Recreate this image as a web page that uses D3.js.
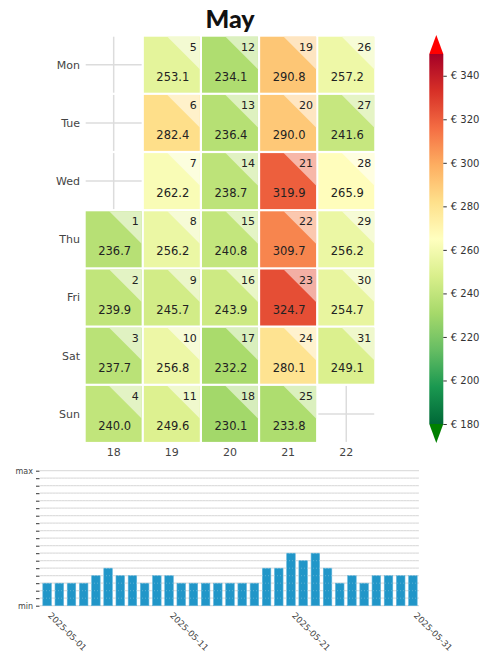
<!DOCTYPE html>
<html><head><meta charset="utf-8">
<script src="https://cdn.jsdelivr.net/npm/d3@7"></script>
<style>
html,body{margin:0;padding:0;background:#fff;}
svg{display:block;font-family:"DejaVu Sans",sans-serif;}
</style></head>
<body>
<svg id="c" width="491" height="657"></svg>
<script>
// ---- data ----
const title = "May";
const year = 2025, month = 5;
const days = [1,2,3,4,5,6,7,8,9,10,11,12,13,14,15,16,17,18,19,20,21,22,23,24,25,26,27,28,29,30,31];
const prices = [236.7,239.9,237.7,240.0,253.1,282.4,262.2,256.2,245.7,256.8,249.6,234.1,236.4,238.7,240.8,243.9,232.2,230.1,290.8,290.0,319.9,309.7,324.7,280.1,233.8,257.2,241.6,265.9,256.2,254.7,249.1];
const weeks = [18,19,20,21,22];
const dayNames = ["Mon","Tue","Wed","Thu","Fri","Sat","Sun"];
const colorTicks = [180,200,220,240,260,280,300,320,340];
const colorDomain = [180,350];
const barLevels = [3,3,3,3,4,5,4,4,3,4,4,3,3,3,3,3,3,3,5,5,7,6,7,5,3,4,3,4,4,4,4];
const barTickCount = 18;
const barDateLabels = ["2025-05-01","2025-05-11","2025-05-21","2025-05-31"];
const rdylgn = ["#a50026","#d73027","#f46d43","#fdae61","#fee08b","#ffffbf","#d9ef8b","#a6d96a","#66bd63","#1a9850","#006837"];

const svg = d3.select("#c");
const fmtDate = d3.timeFormat("%Y-%m-%d");
const fmtWeek = d3.timeFormat("%V");
const cells = days.map((d,i) => {
  const dt = new Date(year, month-1, d);
  return {day:d, price:prices[i], week:+fmtWeek(dt), wd:(dt.getDay()+6)%7, date:fmtDate(dt), level:barLevels[i]};
});

// colormap RdYlGn_r (linear between colorbrewer stops)
const cmapR = rdylgn.slice().reverse();
const cmap = d3.scaleLinear().domain(d3.range(cmapR.length).map(i=>i/(cmapR.length-1))).range(cmapR).interpolate(d3.interpolateRgb);
const norm = d3.scaleLinear().domain(colorDomain).range([0,1]).clamp(true);
const color = v => cmap(norm(v));

// ---- heatmap ----
const x = d3.scaleBand().domain(weeks).range([84.6, 375.35]);
const y = d3.scaleBand().domain(d3.range(7)).range([35.6, 443.0]);
const gap = 1.1;
const cw = x.bandwidth()-2*gap, ch = y.bandwidth()-2*gap;

// empty-slot grid crosses
const filled = new Set(cells.map(c=>c.week+"-"+c.wd));
const empties = [];
weeks.forEach(w => d3.range(7).forEach(r => { if(!filled.has(w+"-"+r)) empties.push({week:w, wd:r}); }));
const eg = svg.append("g");
empties.forEach(e => {
  const x0 = x(e.week)+gap, y0 = y(e.wd)+gap;
  eg.append("line").attr("x1",x0).attr("x2",x0+cw).attr("y1",y0+ch/2).attr("y2",y0+ch/2).attr("stroke","#dcdcdc").attr("stroke-width",1.5);
  eg.append("line").attr("x1",x0+cw/2).attr("x2",x0+cw/2).attr("y1",y0).attr("y2",y0+ch).attr("stroke","#dcdcdc").attr("stroke-width",1.5);
});

const cg = svg.append("g").selectAll("g").data(cells).join("g")
  .attr("transform", c => `translate(${x(c.week)+gap},${y(c.wd)+gap})`);
cg.append("rect").attr("width",cw).attr("height",ch).attr("fill",c=>color(c.price));
const tri = 0.58;
cg.append("path").attr("d", `M${cw*(1-tri)},0L${cw},0L${cw},${ch*tri}Z`)
  .attr("fill", c => d3.interpolateRgb(color(c.price), "#fff")(0.55));
cg.append("text").attr("x",cw-3).attr("y",14).attr("text-anchor","end")
  .attr("font-size",11).attr("fill","#222").text(c=>c.day);
cg.append("text").attr("x",cw/2+1).attr("y",44).attr("text-anchor","middle")
  .attr("font-size",11.5).attr("fill","#222").text(c=>c.price.toFixed(1));

// axis labels
svg.append("g").selectAll("text").data(dayNames).join("text")
  .attr("x",80).attr("y",(d,i)=>y(i)+y.bandwidth()/2).attr("dy","0.35em")
  .attr("text-anchor","end").attr("font-size",11).attr("fill","#444").text(d=>d);
svg.append("g").selectAll("text").data(weeks).join("text")
  .attr("x",w=>x(w)+x.bandwidth()/2).attr("y",452).attr("dy","0.35em")
  .attr("text-anchor","middle").attr("font-size",11).attr("fill","#444").text(w=>w);

// title
svg.append("text").attr("x",230).attr("y",28).attr("text-anchor","middle")
  .attr("font-family","Lato, 'Open Sans', sans-serif").attr("font-weight",900)
  .attr("font-size",25).attr("fill","#111").text(title);

// ---- colorbar ----
const cbx = 429.3, cbw = 14;
const cy = d3.scaleLinear().domain(colorDomain).range([424,54]);
const defs = svg.append("defs");
const grad = defs.append("linearGradient").attr("id","cbg").attr("x1",0).attr("x2",0).attr("y1",1).attr("y2",0);
d3.range(0,1.0001,0.05).forEach(t => grad.append("stop").attr("offset",t).attr("stop-color",cmap(t)));
svg.append("rect").attr("x",cbx).attr("y",cy(colorDomain[1])).attr("width",cbw).attr("height",cy(colorDomain[0])-cy(colorDomain[1])).attr("fill","url(#cbg)");
svg.append("path").attr("d",`M${cbx},${cy(colorDomain[1])}L${cbx+cbw},${cy(colorDomain[1])}L${cbx+cbw/2},${cy(colorDomain[1])-19}Z`).attr("fill","#ff0000");
svg.append("path").attr("d",`M${cbx},${cy(colorDomain[0])}L${cbx+cbw},${cy(colorDomain[0])}L${cbx+cbw/2},${cy(colorDomain[0])+19}Z`).attr("fill","#008000");
const cax = svg.append("g").attr("transform",`translate(${cbx+cbw},0)`)
  .call(d3.axisRight(cy).tickValues(colorTicks).tickSize(3.5).tickPadding(4).tickFormat(v=>"€ "+v));
cax.select(".domain").remove();
cax.selectAll("line").attr("stroke","#333");
cax.selectAll("text").attr("font-size",10).attr("fill","#333").attr("font-family","DejaVu Sans");

// ---- bar chart ----
const bx = d3.scaleBand().domain(cells.map(c=>c.date)).range([41,419]).paddingInner(0.3).paddingOuter(0.15);
const by = d3.scaleLinear().domain([0,barTickCount]).range([605.7,470.7]);
const gl = svg.append("g");
d3.range(barTickCount+1).forEach(i => {
  gl.append("line").attr("x1",40).attr("x2",419).attr("y1",by(i)).attr("y2",by(i)).attr("stroke","#dedede").attr("stroke-width",1.3);
});
svg.append("g").selectAll("rect").data(cells).join("rect")
  .attr("x",c=>bx(c.date)).attr("width",bx.bandwidth())
  .attr("y",c=>by(c.level)).attr("height",c=>by(0)-by(c.level))
  .attr("fill","#2196c8").attr("stroke","#5fb3da").attr("stroke-width",0.6);
const gl2 = svg.append("g");
d3.range(1,barTickCount).forEach(i => {
  gl2.append("line").attr("x1",40).attr("x2",419).attr("y1",by(i)).attr("y2",by(i)).attr("stroke","#ffffff").attr("stroke-opacity",0.25).attr("stroke-width",1).attr("stroke-dasharray","1,2");
});
const yax = svg.append("g").attr("transform","translate(39.5,0)")
  .call(d3.axisLeft(by).tickValues(d3.range(barTickCount+1)).tickSize(3.5).tickPadding(3)
    .tickFormat(v => v===0 ? "min" : v===barTickCount ? "max" : ""));
yax.select(".domain").remove();
yax.selectAll("line").attr("stroke","#333");
yax.selectAll("text").attr("font-size",8).attr("fill","#444").attr("font-family","DejaVu Sans");
svg.append("g").selectAll("text").data(barDateLabels).join("text")
  .attr("transform",d=>`translate(${bx(d)+bx.bandwidth()/2+3.5},613) rotate(45)`)
  .attr("text-anchor","start").attr("dy","0.5em").attr("font-size",8.6).attr("fill","#444").text(d=>d);
</script>
</body></html>
